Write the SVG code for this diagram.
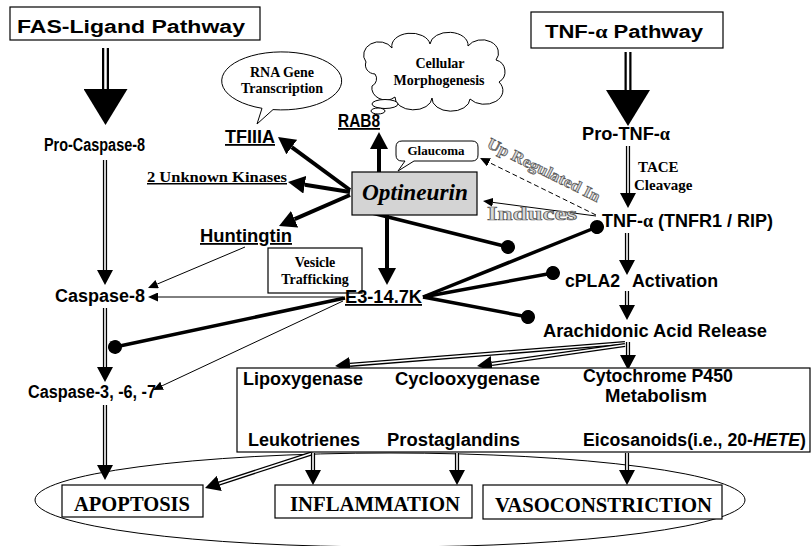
<svg xmlns="http://www.w3.org/2000/svg" width="812" height="546" viewBox="0 0 812 546">
<style>
.s{font-family:'Liberation Sans',Arial,sans-serif;font-weight:bold;font-size:18px;fill:#000}
.t{font-family:'Liberation Serif','Times New Roman',serif;font-weight:bold;fill:#000}
.u{text-decoration:underline}
.box{fill:#fff;stroke:#000;stroke-width:1.2}
.thin{fill:none;stroke:#000;stroke-width:1}
.thick{fill:none;stroke:#000;stroke-width:4}
.blunt{fill:none;stroke:#000;stroke-width:3.5}
.o{fill:none;stroke:#000;stroke-width:4.2}
.i{fill:none;stroke:#fff;stroke-width:1.6}
.bo{fill:none;stroke:#000;stroke-width:7}
.bi{fill:none;stroke:#fff;stroke-width:2.5}
.ghost{fill:#d8d8d8;stroke:#555;stroke-width:0.7}
</style>
<defs>
<marker id="hT" markerUnits="userSpaceOnUse" viewBox="0 -9 17 18" refX="0" refY="0" markerWidth="17" markerHeight="18" orient="auto"><path d="M0,-9L17,0L0,9Z" fill="#000"/></marker>
<marker id="hD" markerUnits="userSpaceOnUse" viewBox="0 -8 15 16" refX="0" refY="0" markerWidth="15" markerHeight="16" orient="auto"><path d="M0,-8L15,0L0,8Z" fill="#000"/></marker>
<marker id="hS" markerUnits="userSpaceOnUse" viewBox="0 -4.5 10 9" refX="0" refY="0" markerWidth="10" markerHeight="9" orient="auto"><path d="M0,-4.5L10,0L0,4.5Z" fill="#000"/></marker>
<marker id="hH" markerUnits="userSpaceOnUse" viewBox="0 -22 36 44" refX="0" refY="0" markerWidth="36" markerHeight="44" orient="auto"><path d="M0,-22L36,0L0,22Z" fill="#000"/></marker>
<marker id="dot" markerUnits="userSpaceOnUse" viewBox="-7 -7 14 14" refX="0" refY="0" markerWidth="14" markerHeight="14" orient="auto"><circle r="7" fill="#000"/></marker>
</defs>

<ellipse id="outcome-ellipse" cx="390" cy="500" rx="355" ry="47" fill="none" stroke="#000" stroke-width="1"/>

<g id="connectors">
  <path class="bo" d="M105.5,48V89"/><path class="bi" d="M105.5,48V89" marker-end="url(#hH)"/>
  <path class="bo" d="M628,52V90"/><path class="bi" d="M628,52V90" marker-end="url(#hH)"/>
  <path class="o" d="M105,160V270"/><path class="i" d="M105,160V270" marker-end="url(#hD)"/>
  <path class="o" d="M105,308V367"/><path class="i" d="M105,308V367" marker-end="url(#hD)"/>
  <path class="o" d="M105,405V465"/><path class="i" d="M105,405V465" marker-end="url(#hD)"/>
  <path class="o" d="M628,146V193"/><path class="i" d="M628,146V193" marker-end="url(#hD)"/>
  <path class="o" d="M627,233V260"/><path class="i" d="M627,233V260" marker-end="url(#hD)"/>
  <path class="o" d="M627,291V305"/><path class="i" d="M627,291V305" marker-end="url(#hD)"/>
  <path class="o" d="M628,342V355"/><path class="i" d="M628,342V355" marker-end="url(#hD)"/>
  <path class="o" d="M625,343L350,364.8"/><path class="i" d="M625,343L350,364.8" marker-end="url(#hD)"/>
  <path class="o" d="M625,345L491.9,363.9"/><path class="i" d="M625,345L491.9,363.9" marker-end="url(#hD)"/>
  <path class="o" d="M314,395V417"/><path class="i" d="M314,395V417" marker-end="url(#hD)"/>
  <path class="o" d="M456,395V417"/><path class="i" d="M456,395V417" marker-end="url(#hD)"/>
  <path class="o" d="M661,405V417"/><path class="i" d="M661,405V417" marker-end="url(#hD)"/>
  <path class="o" d="M313,453L219.3,483.4"/><path class="i" d="M313,453L219.3,483.4" marker-end="url(#hD)"/>
  <path class="o" d="M313,453V470"/><path class="i" d="M313,453V470" marker-end="url(#hD)"/>
  <path class="o" d="M457,453V470"/><path class="i" d="M457,453V470" marker-end="url(#hD)"/>
  <path class="o" d="M627,453V470"/><path class="i" d="M627,453V470" marker-end="url(#hD)"/>
  <path class="thick" d="M350,190L291.7,147.1" marker-end="url(#hT)"/>
  <path class="thick" d="M350,192L304.8,184.7" marker-end="url(#hT)"/>
  <path class="thick" d="M350,195L294.6,219.2" marker-end="url(#hT)"/>
  <path class="thick" d="M379,172V149" marker-end="url(#hT)"/>
  <path class="thick" d="M387,215V268" marker-end="url(#hT)"/>
  <path class="blunt" d="M372,213L508,247" marker-end="url(#dot)"/>
  <path class="blunt" d="M423,297L597,227" marker-end="url(#dot)"/>
  <path class="blunt" d="M423,297L553,273" marker-end="url(#dot)"/>
  <path class="blunt" d="M423,297L528,317" marker-end="url(#dot)"/>
  <path class="blunt" d="M345,298L115,347" marker-end="url(#dot)"/>
  <path class="thin" d="M245,247L157.2,284.1" marker-end="url(#hS)"/>
  <path class="thin" d="M343,297H158" marker-end="url(#hS)"/>
  <path class="thin" d="M343,301L162.1,385.8" marker-end="url(#hS)"/>
  <path class="thin" d="M596,216L492.9,202.4" marker-end="url(#hS)"/>
  <path class="thin" d="M596,215L489,162.4" stroke-dasharray="5,3" marker-end="url(#hS)"/>
</g>

<g id="fas-pathway"><rect class="box" x="10" y="7" width="250" height="33"/><text class="s" x="17" y="33" font-size="24" textLength="228" lengthAdjust="spacingAndGlyphs">FAS-Ligand Pathway</text></g>
<g id="tnf-pathway"><rect class="box" x="531" y="12" width="192" height="36"/><text class="s" x="545" y="38" font-size="23" textLength="158" lengthAdjust="spacingAndGlyphs">TNF-<tspan font-family="'Liberation Serif',serif">α</tspan> Pathway</text></g>

<g id="pro-caspase-8"><text class="s" x="44" y="151" textLength="101" lengthAdjust="spacingAndGlyphs">Pro-Caspase-8</text></g>
<g id="caspase-8"><text class="s" x="55" y="302" textLength="90" lengthAdjust="spacingAndGlyphs">Caspase-8</text></g>
<g id="caspase-3"><text class="s" x="28" y="398" textLength="128" lengthAdjust="spacingAndGlyphs">Caspase-3, -6, -7</text></g>

<g id="pro-tnf"><text class="s" x="582" y="140" textLength="88" lengthAdjust="spacingAndGlyphs">Pro-TNF-<tspan font-family="'Liberation Serif',serif">α</tspan></text></g>
<g id="tace"><text class="t" font-size="15" x="638" y="172">TACE</text><text class="t" font-size="15" x="634" y="190">Cleavage</text></g>
<g id="tnf-alpha"><text class="s" x="602" y="227" textLength="171" lengthAdjust="spacingAndGlyphs">TNF-<tspan font-family="'Liberation Serif',serif">α</tspan> (TNFR1 / RIP)</text></g>
<g id="cpla2"><text class="s" x="565" y="287" textLength="55" lengthAdjust="spacingAndGlyphs">cPLA2</text><text class="s" x="632" y="287" textLength="86" lengthAdjust="spacingAndGlyphs">Activation</text></g>
<g id="arachidonic"><text class="s" x="543" y="337" textLength="224" lengthAdjust="spacingAndGlyphs">Arachidonic Acid Release</text></g>

<g id="metabolism-box"><rect x="237" y="368" width="573" height="84" fill="#fff" stroke="#000" stroke-width="1.2"/></g>
<g id="lipoxygenase"><text class="s" x="243" y="385" font-size="17" textLength="120" lengthAdjust="spacingAndGlyphs">Lipoxygenase</text></g>
<g id="cyclooxygenase"><text class="s" x="395" y="385" font-size="17" textLength="145" lengthAdjust="spacingAndGlyphs">Cyclooxygenase</text></g>
<g id="cytochrome"><text class="s" x="583" y="382" font-size="14.5" textLength="150" lengthAdjust="spacingAndGlyphs">Cytochrome P450</text><text class="s" x="605" y="402" font-size="14.5" textLength="102" lengthAdjust="spacingAndGlyphs">Metabolism</text></g>
<g id="leukotrienes"><text class="s" x="248" y="446" font-size="17" textLength="112" lengthAdjust="spacingAndGlyphs">Leukotrienes</text></g>
<g id="prostaglandins"><text class="s" x="387" y="446" font-size="17" textLength="133" lengthAdjust="spacingAndGlyphs">Prostaglandins</text></g>
<g id="eicosanoids"><text class="s" x="583" y="446" font-size="17" textLength="223" lengthAdjust="spacingAndGlyphs">Eicosanoids(i.e., 20-<tspan font-style="italic">HETE</tspan>)</text></g>

<g id="apoptosis"><rect class="box" x="62" y="485" width="141" height="32"/><text class="t" font-size="21" x="74" y="511" textLength="116" lengthAdjust="spacingAndGlyphs">APOPTOSIS</text></g>
<g id="inflammation"><rect class="box" x="275" y="485" width="197" height="33"/><text class="t" font-size="21" x="290" y="511" textLength="170" lengthAdjust="spacingAndGlyphs">INFLAMMATION</text></g>
<g id="vasoconstriction"><rect class="box" x="483" y="485" width="239" height="34"/><text class="t" font-size="21" x="495" y="512" textLength="217" lengthAdjust="spacingAndGlyphs">VASOCONSTRICTION</text></g>

<g id="optineurin"><rect x="352" y="172" width="125" height="43" fill="#d4d4d4" stroke="#000" stroke-width="1.2"/><text class="t" font-size="24" font-style="italic" x="362" y="200" textLength="106" lengthAdjust="spacingAndGlyphs">Optineurin</text></g>

<g id="rna-bubble"><path d="M273,109.6A60,29 0 1,0 262,108.3L257,124Z" fill="#fff" stroke="#000" stroke-width="1"/><text class="t" font-size="14" x="282" y="77" text-anchor="middle">RNA Gene</text><text class="t" font-size="14" x="282" y="93" text-anchor="middle">Transcription</text></g>
<g id="tfiiia"><text class="s u" x="225" y="143" textLength="50" lengthAdjust="spacingAndGlyphs">TFIIIA</text></g>
<g id="kinases"><text class="t u" font-size="15" x="147" y="182" textLength="140" lengthAdjust="spacingAndGlyphs">2 Unknown Kinases</text></g>
<g id="huntingtin"><text class="s u" x="200" y="242" textLength="92" lengthAdjust="spacingAndGlyphs">Huntingtin</text></g>
<g id="vesicle"><rect class="box" x="268" y="248" width="94" height="45"/><text class="t" font-size="14" x="315" y="267" text-anchor="middle">Vesicle</text><text class="t" font-size="14" x="315" y="284" text-anchor="middle">Trafficking</text></g>
<g id="e3"><text class="s u" x="345" y="303" textLength="77" lengthAdjust="spacingAndGlyphs">E3-14.7K</text></g>
<g id="rab8"><text class="s u" x="338" y="127" textLength="42" lengthAdjust="spacingAndGlyphs">RAB8</text></g>
<g id="morphogenesis-cloud"><path d="M366,62A14,12 0 0,1 392,48A18,12 0 0,1 430,44A18,12 0 0,1 468,46A15,12 0 0,1 496,60A12,12 0 0,1 499,82A16,12 0 0,1 470,99A18,12 0 0,1 432,98A18,12 0 0,1 395,97A14,12 0 0,1 372,86A8,8 0 0,0 375,74A10,9 0 0,1 366,62Z" fill="#fff" stroke="#000" stroke-width="1"/><ellipse cx="385" cy="104" rx="13" ry="4.5" fill="#fff" stroke="#000"/><ellipse cx="378" cy="111" rx="7" ry="3" fill="#fff" stroke="#000"/><text class="t" font-size="14" x="440" y="68" text-anchor="middle">Cellular</text><text class="t" font-size="14" x="439" y="85" text-anchor="middle">Morphogenesis</text></g>
<g id="glaucoma"><path d="M402,141H472Q478,141 478,147V155Q478,161 472,161H414L398,171L405,161H402Q396,161 396,155V147Q396,141 402,141Z" fill="#fff" stroke="#000" stroke-width="1"/><text class="t" font-size="13" x="436" y="155" text-anchor="middle">Glaucoma</text></g>
<g id="up-regulated"><text class="t ghost" font-size="16" transform="translate(486,147) rotate(26.5)" textLength="124" lengthAdjust="spacingAndGlyphs">Up Regulated In</text></g>
<g id="induces"><text class="t ghost" font-size="19" x="487" y="220" textLength="90" lengthAdjust="spacingAndGlyphs">Induces</text></g>
</svg>
